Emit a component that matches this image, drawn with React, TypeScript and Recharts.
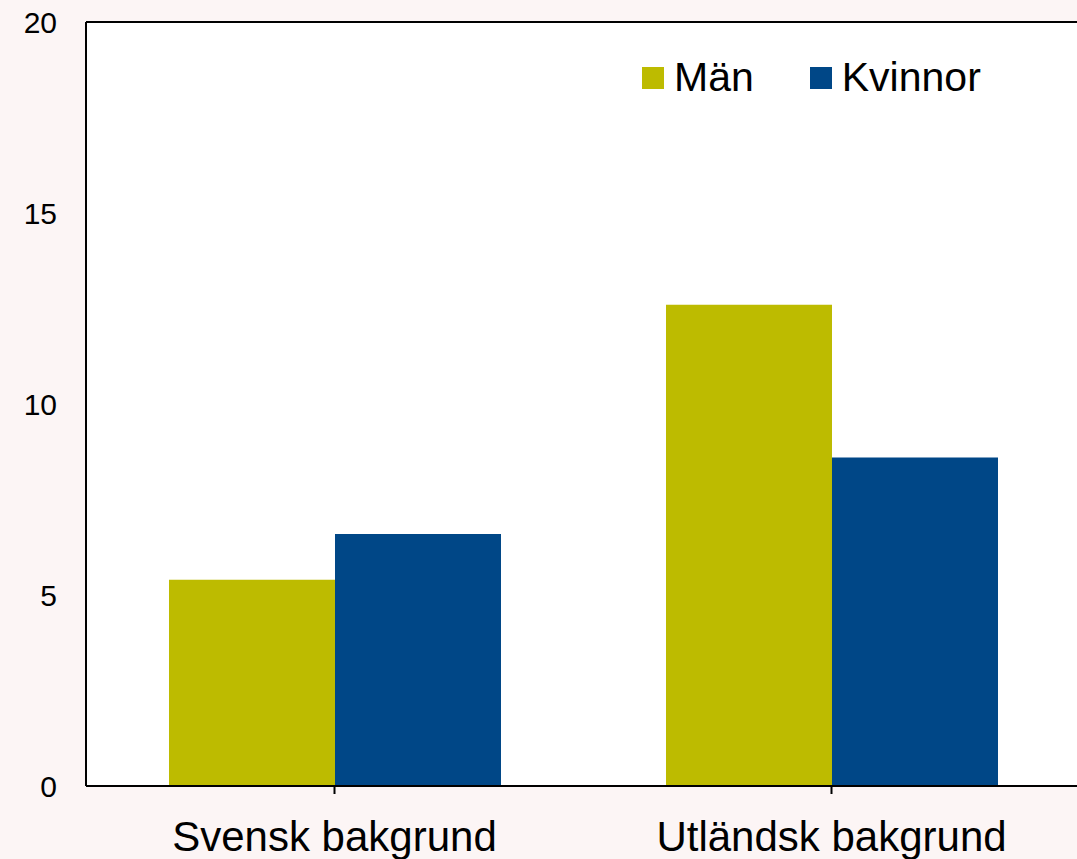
import { Bar, BarChart, CartesianGrid, ReferenceLine, XAxis, YAxis } from "recharts"

const categories = ["Svensk bakgrund", "Utländsk bakgrund"]
const man = [5.4, 12.6]
const kvinnor = [6.6, 8.6]
const yTicks = [0, 5, 10, 15, 20]

const series = [
  { key: "man", name: "Män", color: "#bdbb00" },
  { key: "kvinnor", name: "Kvinnor", color: "#004787" },
]

const data = categories.map((name, i) => ({
  name,
  man: man[i],
  kvinnor: kvinnor[i],
}))

const font = "'Liberation Sans', Arial, sans-serif"

function LegendBox() {
  return (
    <div
      style={{
        position: "absolute",
        left: 642,
        top: 57,
        display: "flex",
        alignItems: "center",
        fontFamily: font,
        fontSize: 41,
        color: "#000",
      }}
    >
      {series.map((s, i) => (
        <div key={s.key} style={{ display: "flex", alignItems: "center", marginRight: i === 0 ? 56 : 0 }}>
          <span style={{ width: 22, height: 22, background: s.color, display: "inline-block", marginRight: 10 }} />
          <span style={{ lineHeight: 1 }}>{s.name}</span>
        </div>
      ))}
    </div>
  )
}

export default function App() {
  return (
    <div
      style={{
        position: "fixed",
        left: 0,
        top: 0,
        width: 1077,
        height: 859,
        overflow: "hidden",
        background: "#fcf5f5",
      }}
    >
      <BarChart
        width={1080}
        height={859}
        data={data}
        margin={{ top: 22, right: 0, left: 0, bottom: 0 }}
        barCategoryGap="16.7%"
        barGap={0}
      >
        <rect x={86} y={22} width={994} height={764} fill="#ffffff" />
        <CartesianGrid vertical={false} stroke="#d9d9d9" strokeWidth={1} />
        <XAxis
          dataKey="name"
          height={73}
          stroke="#000"
          strokeWidth={2}
          tickSize={8}
          tickMargin={27}
          tick={{ fill: "#000", fontSize: 42, fontFamily: font }}
        />
        <YAxis
          width={86}
          domain={[0, 20]}
          ticks={yTicks}
          stroke="#000"
          strokeWidth={2}
          tickLine={false}
          tickSize={0}
          tickMargin={29}
          tick={{ fill: "#000", fontSize: 30, fontFamily: font }}
        />
        <ReferenceLine y={20} stroke="#000" strokeWidth={2} />
        {series.map((s) => (
          <Bar key={s.key} dataKey={s.key} name={s.name} fill={s.color} isAnimationActive={false} />
        ))}
      </BarChart>
      <LegendBox />
    </div>
  )
}
